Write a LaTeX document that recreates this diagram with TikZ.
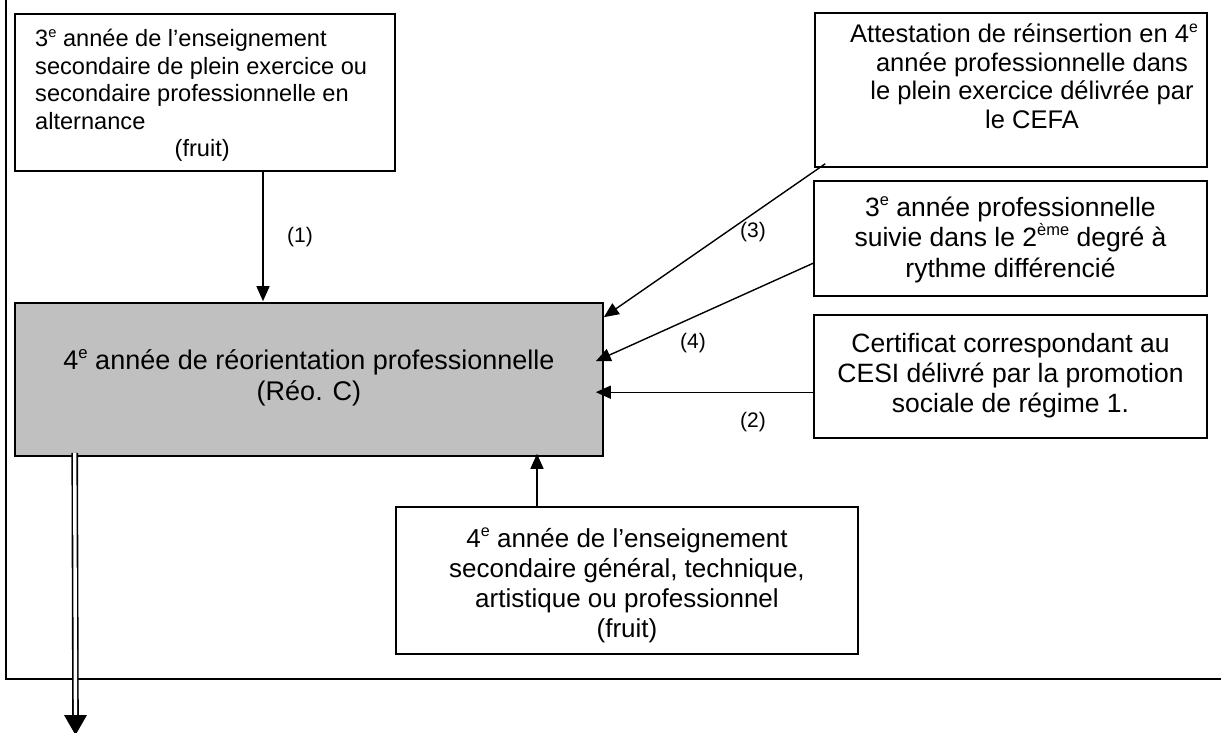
\documentclass[tikz,border=0pt]{standalone}
\usepackage{fontspec}
\usepackage{graphicx}
\setmainfont{Liberation Sans}
\usetikzlibrary{arrows.meta}
\newcommand\fsA{\fontsize{23.6}{27.5}\selectfont}
\newcommand\fsB{\fontsize{26.5}{30.5}\selectfont}
\newcommand\fsM{\fontsize{27}{31}\selectfont}
\newcommand\fsC{\fontsize{25.5}{28.5}\selectfont}
\newcommand\fsD{\fontsize{26.5}{30}\selectfont}
\newcommand\fsE{\fontsize{26}{30}\selectfont}
\newcommand\fsL{\fontsize{21}{24}\selectfont}
\newcommand\expo[1]{\raisebox{0.4em}{\scalebox{0.62}{#1}}}
\tikzset{
  box/.style={draw, line width=1.6pt, inner sep=0pt, rectangle},
  txt/.style={inner sep=0pt, anchor=base},
  arr/.style={line width=1.4pt, -{Triangle[length=15pt,width=13pt]}},
  lbl/.style={inner sep=0pt, anchor=base, font=\fsL},
  frame/.style={line width=2.8pt}
}
\begin{document}
\begin{tikzpicture}[x=1pt,y=1pt]
\useasboundingbox (0,0) rectangle (1221,-733);
% outer frame (left and bottom edges visible)
\draw[frame] (6,0) -- (6,-679) -- (1221,-679);

% boxes
\node[box, minimum width=380pt, minimum height=157pt] (A) at (205,-92.5) {};
\node[box, fill={rgb,255:red,192;green,192;blue,192}, minimum width=588pt, minimum height=153pt] (M) at (309,-379.5) {};
\node[box, minimum width=392pt, minimum height=154pt] (B) at (1011,-90) {};
\node[box, minimum width=393pt, minimum height=115pt] (C) at (1010.5,-238.5) {};
\node[box, minimum width=393pt, minimum height=123pt] (D) at (1010.5,-376.5) {};
\node[box, minimum width=462pt, minimum height=147pt] (E) at (627,-580.5) {};

% texts
\node[txt, anchor=base west] (tA) at (35,-47) {\parbox[t]{360pt}{\raggedright\fsA
3\expo{e} année de l’enseignement\\
secondaire de plein exercice ou\\
secondaire professionnelle en\\
alternance\\
\hspace*{139.5pt}(fruit)}};

\node[txt] (tM) at (309,-369) {\parbox[t]{560pt}{\centering\fsM
4\expo{e} année de réorientation professionnelle\\
(Réo. C)}};

\node[txt] (tB) at (1032,-43) {\parbox[t]{390pt}{\centering\fsC
Attestation de réinsertion en 4\expo{e}\rule{16pt}{0pt}\\
année professionnelle dans\\
le plein exercice délivrée par\\
le CEFA}};

\node[txt] (tC) at (1010.5,-216) {\parbox[t]{390pt}{\centering\fsB
3\expo{e} année professionnelle\\
suivie dans le 2\expo{ème} degré à\\
rythme différencié}};

\node[txt] (tD) at (1010.5,-352) {\parbox[t]{390pt}{\centering\fsD
Certificat correspondant au\\
CESI délivré par la promotion\\
sociale de régime 1.}};

\node[txt] (tE) at (627,-547) {\parbox[t]{460pt}{\centering\fsE
4\expo{e} année de l’enseignement\\
secondaire général, technique,\\
artistique ou professionnel\\
(fruit)}};

% connectors
\draw[arr] ([xshift=58pt]A.south) -- ([xshift=-46pt,yshift=1pt]M.north);
\draw[arr] ([xshift=11pt,yshift=4pt]B.south west) -- ([yshift=-15pt]M.north east);
\draw[arr] ([yshift=-83pt]C.north west) -- ([xshift=-8pt,yshift=-59pt]M.north east);
\draw[arr] ([yshift=-78pt]D.north west) -- ([xshift=-8pt,yshift=-90pt]M.north east);
\draw[arr] ([xshift=-90pt]E.north) -- ([xshift=228pt,yshift=3pt]M.south);

% outgoing double arrow
\coordinate (out) at (75.5,-735);
\draw[double, double distance=3.4pt, line width=1.6pt] ([xshift=60.5pt,yshift=4pt]M.south west) -- (75.5,-716);
\fill (64,-715) -- (87,-715) -- (out) -- cycle;

% labels
\node[lbl] (l1) at (300,-242) {(1)};
\node[lbl] (l3) at (753,-237) {(3)};
\node[lbl] (l4) at (693,-348) {(4)};
\node[lbl] (l2) at (753,-427) {(2)};
\end{tikzpicture}
\end{document}
